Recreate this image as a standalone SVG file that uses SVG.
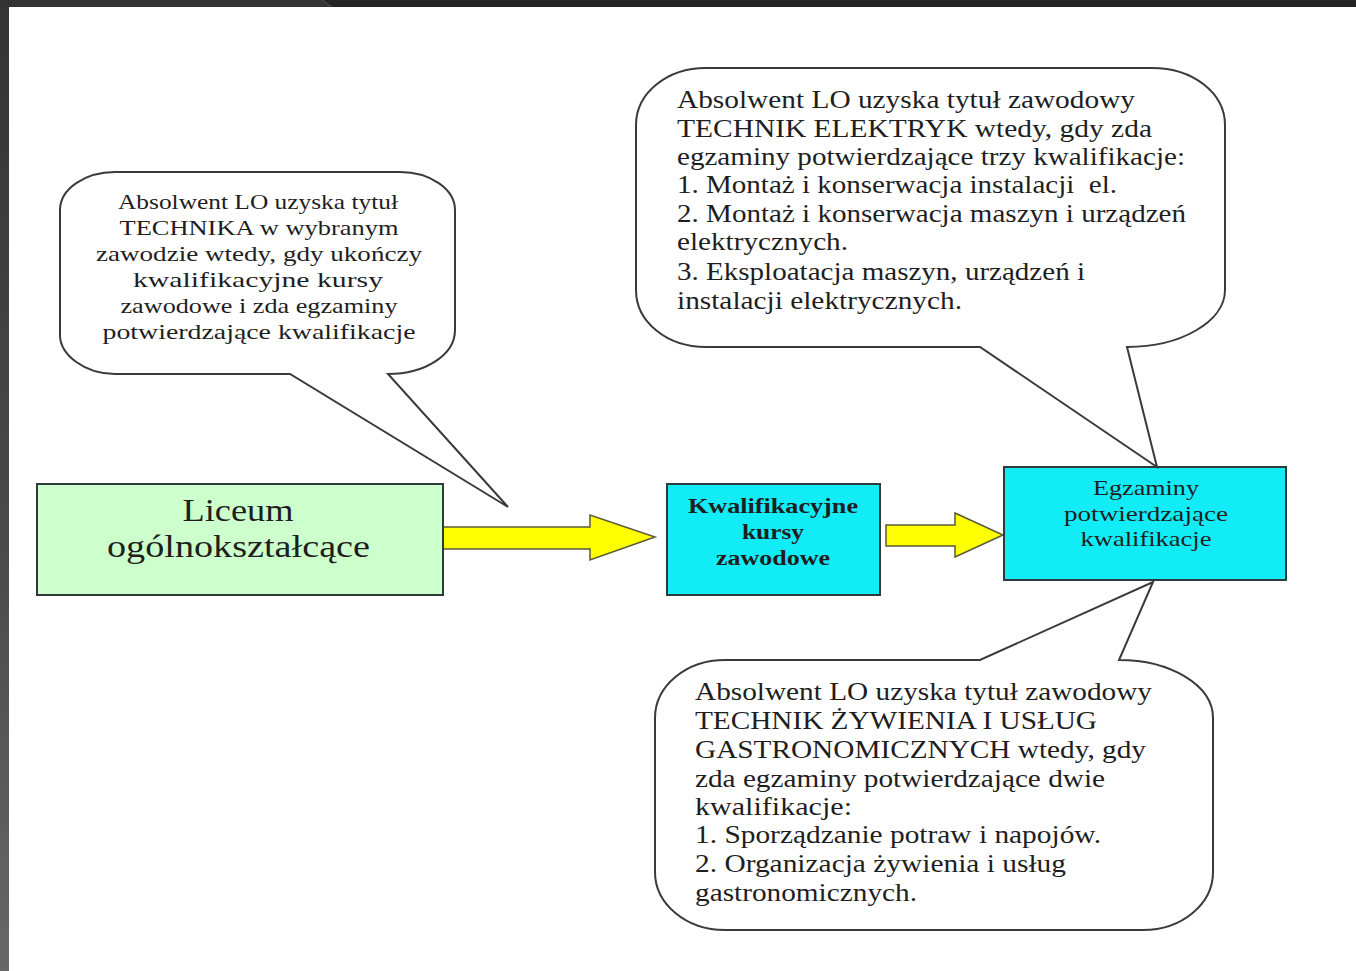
<svg xmlns="http://www.w3.org/2000/svg" width="1356" height="971" viewBox="0 0 1356 971">
<defs>
<linearGradient id="sideGrad" x1="0" y1="0" x2="0" y2="1">
<stop offset="0" stop-color="#333333"/>
<stop offset="0.6" stop-color="#4c4c4c"/>
<stop offset="1" stop-color="#676767"/>
</linearGradient>
<style>
.t{font-family:"Liberation Serif","Times New Roman",serif;fill:#1e1e1e}
.cl{font-size:22px;text-anchor:middle}
.cr{font-size:25px}
.box{stroke:#2f3a3a;stroke-width:2}
.callout{fill:#ffffff;stroke:#3a3a3a;stroke-width:2;stroke-linejoin:miter}
.arrow{fill:#ffff00;stroke:#5a5a3a;stroke-width:1.5;stroke-linejoin:miter}
</style>
</defs>
<rect x="0" y="0" width="1356" height="971" fill="#ffffff"/>
<g id="frame">
<rect x="0" y="0" width="1356" height="7" fill="#333333"/>
<polygon points="322,0 1356,0 1356,7 332,7" fill="#242424"/>
<line x1="322" y1="0" x2="332" y2="7" stroke="#555555" stroke-width="1"/>
<rect x="0" y="0" width="9" height="971" fill="url(#sideGrad)"/>
</g>
<g id="connectors">
<polygon class="arrow" points="443,527 590,527 590,515 655,537 590,560 590,549 443,549"/>
<polygon class="arrow" points="886,525 955,525 955,513 1003,535 955,557 955,546 886,546"/>
</g>
<g id="node-liceum">
<rect class="box" x="37" y="484" width="406" height="111" fill="#ccffcc"/>
<text class="t" x="238" y="521" font-size="32" text-anchor="middle" textLength="111" lengthAdjust="spacingAndGlyphs">Liceum</text>
<text class="t" x="238.5" y="557" font-size="32" text-anchor="middle" textLength="263" lengthAdjust="spacingAndGlyphs">ogólnokształcące</text>
</g>
<g id="node-kursy">
<rect class="box" x="667" y="484" width="213" height="111" fill="#12ecf6"/>
<text class="t" x="773" y="513" font-size="21" font-weight="bold" text-anchor="middle" textLength="170" lengthAdjust="spacingAndGlyphs">Kwalifikacyjne</text>
<text class="t" x="773" y="539" font-size="21" font-weight="bold" text-anchor="middle" textLength="62" lengthAdjust="spacingAndGlyphs">kursy</text>
<text class="t" x="773" y="565" font-size="21" font-weight="bold" text-anchor="middle" textLength="114" lengthAdjust="spacingAndGlyphs">zawodowe</text>
</g>
<g id="node-egzaminy">
<rect class="box" x="1004" y="467" width="282" height="113" fill="#12ecf6"/>
<text class="t" x="1146" y="495" font-size="22" text-anchor="middle" textLength="106" lengthAdjust="spacingAndGlyphs">Egzaminy</text>
<text class="t" x="1146" y="521" font-size="22" text-anchor="middle" textLength="164" lengthAdjust="spacingAndGlyphs">potwierdzające</text>
<text class="t" x="1146" y="546" font-size="22" text-anchor="middle" textLength="131" lengthAdjust="spacingAndGlyphs">kwalifikacje</text>
</g>
<g id="callout-technika">
<path class="callout" d="M 115,172 H 400 C 430,172 455,189 455,210 V 330 C 455,355 425,374 388,374 L 508,507 L 290,374 H 115 C 85,374 60,355 60,335 V 210 C 60,189 85,172 115,172 Z"/>
<text class="t cl" x="258" y="209" textLength="280" lengthAdjust="spacingAndGlyphs">Absolwent LO uzyska tytuł</text>
<text class="t cl" x="259" y="235" textLength="279" lengthAdjust="spacingAndGlyphs">TECHNIKA w wybranym</text>
<text class="t cl" x="259" y="261" textLength="326" lengthAdjust="spacingAndGlyphs">zawodzie wtedy, gdy ukończy</text>
<text class="t cl" x="258" y="287" textLength="250" lengthAdjust="spacingAndGlyphs">kwalifikacyjne kursy</text>
<text class="t cl" x="259" y="313" textLength="277" lengthAdjust="spacingAndGlyphs">zawodowe i zda egzaminy</text>
<text class="t cl" x="259" y="339" textLength="313" lengthAdjust="spacingAndGlyphs">potwierdzające kwalifikacje</text>
</g>
<g id="callout-elektryk">
<path class="callout" d="M 706,68 H 1152 C 1193,68 1225,93 1225,125 V 290 C 1225,322 1180,347 1127,347 L 1157,467 L 980,347 H 706 C 667,347 636,322 636,290 V 125 C 636,93 667,68 706,68 Z"/>
<text class="t cr" x="677" y="108" textLength="458" lengthAdjust="spacingAndGlyphs">Absolwent LO uzyska tytuł zawodowy</text>
<text class="t cr" x="677" y="137" textLength="475" lengthAdjust="spacingAndGlyphs">TECHNIK ELEKTRYK wtedy, gdy zda</text>
<text class="t cr" x="677" y="165" textLength="508" lengthAdjust="spacingAndGlyphs">egzaminy potwierdzające trzy kwalifikacje:</text>
<text class="t cr" x="677" y="193" textLength="440" lengthAdjust="spacingAndGlyphs" xml:space="preserve">1. Montaż i konserwacja instalacji  el.</text>
<text class="t cr" x="677" y="222" textLength="509" lengthAdjust="spacingAndGlyphs">2. Montaż i konserwacja maszyn i urządzeń</text>
<text class="t cr" x="677" y="250" textLength="171" lengthAdjust="spacingAndGlyphs">elektrycznych.</text>
<text class="t cr" x="677" y="280" textLength="408" lengthAdjust="spacingAndGlyphs">3. Eksploatacja maszyn, urządzeń i</text>
<text class="t cr" x="677" y="309" textLength="285" lengthAdjust="spacingAndGlyphs">instalacji elektrycznych.</text>
</g>
<g id="callout-zywienie">
<path class="callout" d="M 725,660 H 980 L 1153,582 L 1119,660 C 1170,660 1213,685 1213,718 V 872 C 1213,904 1182,930 1143,930 H 725 C 686,930 655,904 655,872 V 718 C 655,686 686,660 725,660 Z"/>
<text class="t cr" x="695" y="700" textLength="457" lengthAdjust="spacingAndGlyphs">Absolwent LO uzyska tytuł zawodowy</text>
<text class="t cr" x="695" y="729" textLength="402" lengthAdjust="spacingAndGlyphs">TECHNIK ŻYWIENIA I USŁUG</text>
<text class="t cr" x="695" y="758" textLength="451" lengthAdjust="spacingAndGlyphs">GASTRONOMICZNYCH wtedy, gdy</text>
<text class="t cr" x="695" y="787" textLength="410" lengthAdjust="spacingAndGlyphs">zda egzaminy potwierdzające dwie</text>
<text class="t cr" x="695" y="815" textLength="157" lengthAdjust="spacingAndGlyphs">kwalifikacje:</text>
<text class="t cr" x="695" y="843" textLength="406" lengthAdjust="spacingAndGlyphs">1. Sporządzanie potraw i napojów.</text>
<text class="t cr" x="695" y="872" textLength="371" lengthAdjust="spacingAndGlyphs">2. Organizacja żywienia i usług</text>
<text class="t cr" x="695" y="901" textLength="222" lengthAdjust="spacingAndGlyphs">gastronomicznych.</text>
</g>
</svg>
